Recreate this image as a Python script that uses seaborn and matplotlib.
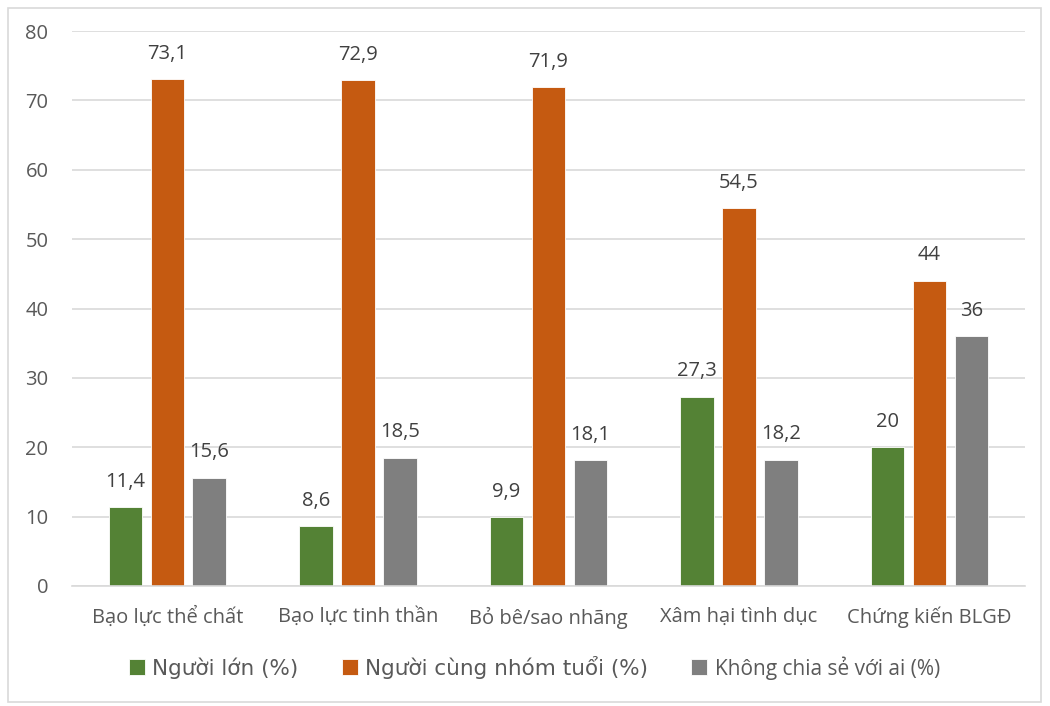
import matplotlib
matplotlib.use("Agg")
import matplotlib.pyplot as plt
import seaborn as sns
import pandas as pd
from matplotlib.patches import Rectangle

categories = ["Bạo lực thể chất", "Bạo lực tinh thần", "Bỏ bê/sao nhãng",
              "Xâm hại tình dục", "Chứng kiến BLGĐ"]
series_names = ["Người lớn (%)", "Người cùng nhóm tuổi (%)", "Không chia sẻ với ai (%)"]
nguoi_lon = [11.4, 8.6, 9.9, 27.3, 20]
cung_nhom = [73.1, 72.9, 71.9, 54.5, 44]
khong_chia_se = [15.6, 18.5, 18.1, 18.2, 36]
colors = ["#548235", "#C55A11", "#7F7F7F"]

rows = []
for name, vals in zip(series_names, [nguoi_lon, cung_nhom, khong_chia_se]):
    for c, v in zip(categories, vals):
        rows.append({"cat": c, "series": name, "value": v})
df = pd.DataFrame(rows)

sns.set_style("white")
plt.rcParams["font.family"] = ["Open Sans", "DejaVu Sans"]
text_color = "#595959"

fig = plt.figure(figsize=(10.5, 7.06), dpi=100)
ax = fig.add_axes([0.0686, 0.170, 0.976 - 0.0686, 0.956 - 0.170])

sns.barplot(data=df, x="cat", y="value", hue="series", palette=colors,
            width=0.66, gap=0.2, ax=ax, edgecolor="white", linewidth=0.6,
            saturation=1, legend=True)

def fmt(v):
    s = f"{v:.1f}".replace(".", ",")
    if s.endswith(",0"):
        s = s[:-2]
    return s

for cont in ax.containers:
    ax.bar_label(cont, labels=[fmt(b.get_height()) for b in cont],
                 padding=11, fontsize=14.5, color="#404040")

ax.set_ylim(0, 80)
ax.set_xlim(-0.5, 4.5)
ax.set_yticks(range(0, 81, 10))
ax.yaxis.grid(True, color="#D9D9D9", linewidth=1.2)
ax.set_axisbelow(True)
for s in ["left", "right", "top"]:
    ax.spines[s].set_visible(False)
ax.spines["bottom"].set_color("#D9D9D9")
ax.spines["bottom"].set_linewidth(1.2)
ax.tick_params(axis="both", length=0, labelsize=14.5, colors=text_color)
ax.tick_params(axis="y", pad=17)
ax.tick_params(axis="x", pad=15)
ax.set_xlabel("")
ax.set_ylabel("")

handles, labels = ax.get_legend_handles_labels()
ax.legend_.remove()
leg = fig.legend(handles, labels, loc="center left", bbox_to_anchor=(0.104, 0.054),
                 ncol=3, frameon=False, handlelength=0.75, handleheight=0.75,
                 handletextpad=0.35, columnspacing=2.0,
                 prop={"family": ["DejaVu Sans"], "size": 15.5})
for i, t in enumerate(leg.get_texts()):
    t.set_color(text_color)
    if i == 2:
        t.set_fontsize(15)
        t.set_family(["Open Sans", "DejaVu Sans"])

fig.patches.append(Rectangle((0.008, 0.006), 0.983, 0.982, transform=fig.transFigure,
                             fill=False, edgecolor="#D9D9D9", linewidth=1.2))

fig.savefig("out.png", dpi=100, facecolor="white")
